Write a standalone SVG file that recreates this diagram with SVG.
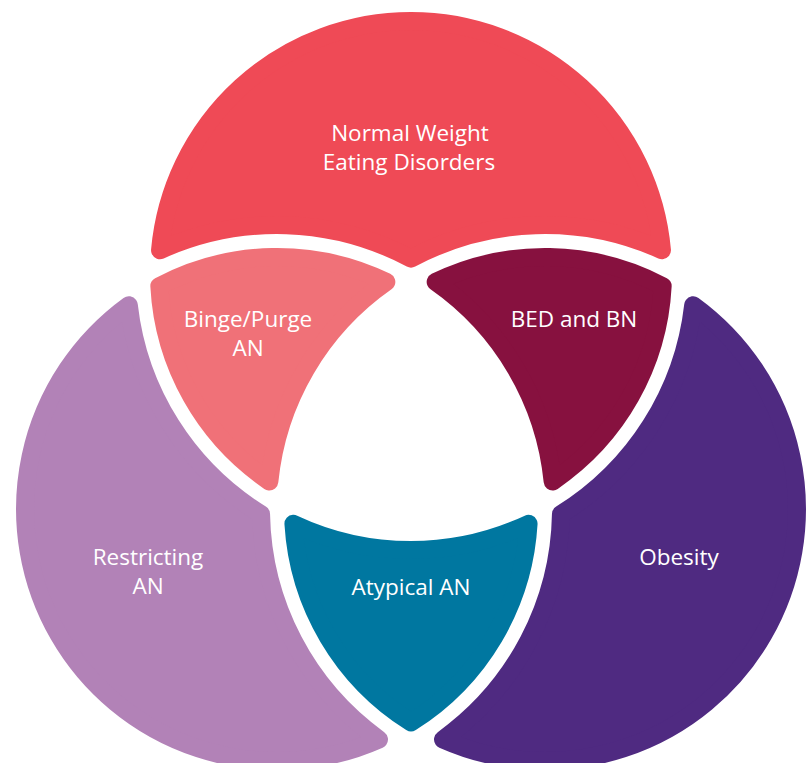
<svg xmlns="http://www.w3.org/2000/svg" width="808" height="763" viewBox="0 0 808 763">
<style>
.r{stroke-width:18;stroke-linejoin:round}
.t{font-family:"Open Sans","Liberation Sans",sans-serif;font-size:22.5px;font-weight:400;fill:#ffffff;text-anchor:middle}
</style>
<rect width="808" height="763" fill="#ffffff"/>
<g id="normal-weight">
<path class="r" fill="#ef4a56" stroke="#ef4a56" d="M160.03 250.21A252 252 0 0 1 661.97 250.21A284 284 0 0 0 411 258.60A284 284 0 0 0 160.03 250.21Z"/>
<text class="t" x="410" y="141">Normal Weight</text>
<text class="t" x="409" y="170">Eating Disorders</text>
</g>
<g id="binge-purge">
<path class="r" fill="#f07178" stroke="#f07178" d="M159.34 286.15A252 252 0 0 1 386.33 281.95A277 277 0 0 0 269.37 481.44A252 252 0 0 1 159.34 286.15Z"/>
<text class="t" x="248" y="327">Binge/Purge</text>
<text class="t" x="248" y="356">AN</text>
</g>
<g id="bed-bn">
<path class="r" fill="#87113f" stroke="#87113f" d="M662.66 286.15A252 252 0 0 0 435.67 281.95A277 277 0 0 1 552.63 481.44A252 252 0 0 0 662.66 286.15Z"/>
<text class="t" x="574" y="327">BED and BN</text>
</g>
<g id="restricting">
<path class="r" fill="#b282b7" stroke="#b282b7" d="M128.83 305.17A284 284 0 0 0 261.05 514.19A284 284 0 0 0 379 739.43A252 252 0 0 1 128.83 305.17Z"/>
<text class="t" x="148" y="565">Restricting</text>
<text class="t" x="148" y="594">AN</text>
</g>
<g id="obesity">
<path class="r" fill="#4f2a81" stroke="#4f2a81" d="M693.17 305.17A284 284 0 0 1 560.95 514.19A284 284 0 0 1 443 739.43A252 252 0 0 0 693.17 305.17Z"/>
<text class="t" x="679" y="565">Obesity</text>
</g>
<g id="atypical">
<path class="r" fill="#0077a0" stroke="#0077a0" d="M293.43 523.81A277 277 0 0 0 528.57 523.81A252 252 0 0 1 411 722.42A252 252 0 0 1 293.43 523.81Z"/>
<text class="t" x="411" y="595">Atypical AN</text>
</g>
</svg>
